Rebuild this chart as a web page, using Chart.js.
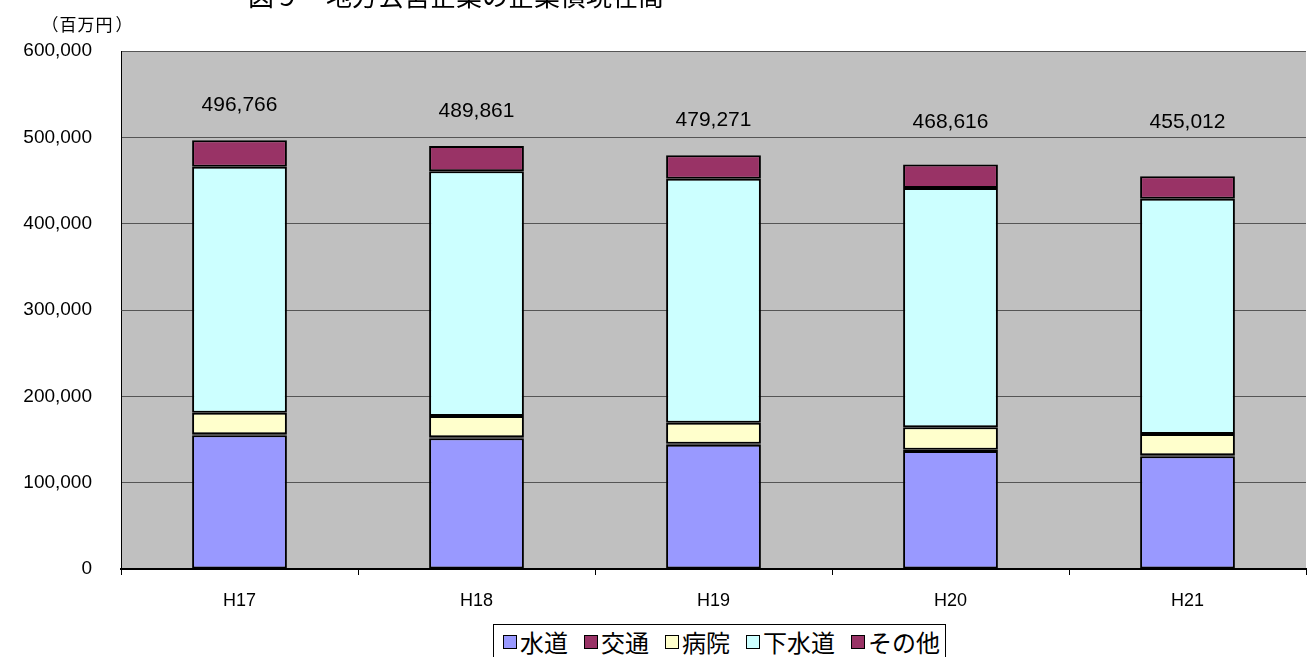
<!DOCTYPE html>
<html><head><meta charset="utf-8">
<script src="https://cdn.jsdelivr.net/npm/chart.js@4.4.0/dist/chart.umd.min.js"></script>
<style>
html,body{margin:0;padding:0;background:#fff;}
#wrap{position:relative;width:1308px;height:657px;overflow:hidden;}
#legend{position:absolute;left:493px;top:624px;width:453px;height:40px;border:1px solid #000;background:#fff;
 font-family:"Noto Sans CJK JP","Noto Sans";font-size:24px;line-height:30px;color:#000;display:flex;align-items:flex-start;padding-left:9px;padding-top:1px;box-sizing:border-box;white-space:nowrap;}
#legend .it{display:flex;align-items:center;margin-right:16px;height:32px;}
#legend .sw{width:12px;height:12px;border:1px solid #000;margin-right:3px;}
</style></head>
<body><div id="wrap"><canvas id="c" width="1308" height="657"></canvas><div id="legend"></div></div>
<script>
const categories = ["H17","H18","H19","H20","H21"];
const seriesNames = ["水道","交通","病院","下水道","その他"];
const suido     = [155000, 151500, 143800, 136800, 130700];
const kotsu     = [1200, 1200, 1200, 1200, 1200];
const byoin     = [24800, 24500, 24500, 26100, 24500];
const gesuido   = [285000, 283500, 282600, 277200, 272500];
const sonota    = [30766, 29161, 27171, 27316, 26112];
const totals    = [496766, 489861, 479271, 468616, 455012];
const yTicks    = [0, 100000, 200000, 300000, 400000, 500000, 600000];
const colors    = ["#9999FF","#993366","#FFFFCC","#CCFFFF","#993366"];

const seriesValues = [suido, kotsu, byoin, gesuido, sonota];

const bgPlugin = {
  id:'bg',
  beforeDraw(chart){
    const {ctx, chartArea:a} = chart;
    ctx.save();
    ctx.fillStyle = '#C0C0C0';
    ctx.fillRect(a.left, a.top, a.right-a.left, a.bottom-a.top);
    ctx.restore();
  },
  afterDraw(chart){
    const {ctx} = chart;
    ctx.save();
    ctx.fillStyle='#000';
    ctx.font = '26px "Noto Sans CJK JP"';
    ctx.textBaseline='alphabetic';
    ctx.textAlign='left';
    ctx.fillText('図９　地方公営企業の企業債現在高', 248, 6);
    ctx.font = '17px "Noto Sans CJK JP"';
    ctx.textBaseline='middle';
    ctx.textAlign='center';
    const unit = ['（','百','万','円','）'];
    const ux = [50, 68, 86, 104, 124];
    unit.forEach((c,i)=>ctx.fillText(c, ux[i], 25));
    // totals labels
    const xs = chart.scales.x, ys = chart.scales.y;
    ctx.font = '21px "Liberation Sans", Arial';
    ctx.textAlign='center';
    totals.forEach((t,i)=>{
      const x = xs.getPixelForValue(i);
      const top = ys.getPixelForValue(t);
      const y = Math.min(top - 35, 122);
      ctx.fillText(t.toLocaleString('en-US'), x, y);
    });
    ctx.restore();
  }
};

new Chart(document.getElementById('c'), {
  type:'bar',
  data:{
    labels: categories,
    datasets: seriesNames.map((n,i)=>({
      label:n, data:seriesValues[i], backgroundColor:colors[i],
      borderColor:'#000', borderWidth:2, borderSkipped:false,
      barPercentage:0.4, categoryPercentage:1.0
    }))
  },
  options:{
    responsive:false, animation:false,
    layout:{padding:{top:51,right:2,left:0,bottom:0}},
    plugins:{legend:{display:false}, tooltip:{enabled:false}},
    scales:{
      x:{stacked:true,
        grid:{offset:true, drawOnChartArea:false, color:'#000', tickLength:6},
        border:{color:'#000', width:2},
        ticks:{color:'#000', font:{family:'"Liberation Sans", Arial', size:18}, padding:15},
        afterFit(s){ s.height = 88; }
      },
      y:{stacked:true, min:0, max:600000,
        afterBuildTicks(s){ s.ticks = yTicks.map(v=>({value:v})); },
        grid:{color:'#555', lineWidth:1, drawTicks:false},
        border:{color:'#000', width:1},
        ticks:{color:'#000', font:{family:'"Liberation Sans", Arial', size:19}, padding:29,
          callback:v=>Number(v).toLocaleString('en-US')},
        afterFit(s){ s.width = 121; }
      }
    }
  },
  plugins:[bgPlugin]
});

const lg = document.getElementById('legend');
seriesNames.forEach((n,i)=>{
  const it = document.createElement('span'); it.className='it';
  const sw = document.createElement('span'); sw.className='sw'; sw.style.background=colors[i];
  const tx = document.createElement('span'); tx.textContent=n;
  it.appendChild(sw); it.appendChild(tx); lg.appendChild(it);
});
</script></body></html>
